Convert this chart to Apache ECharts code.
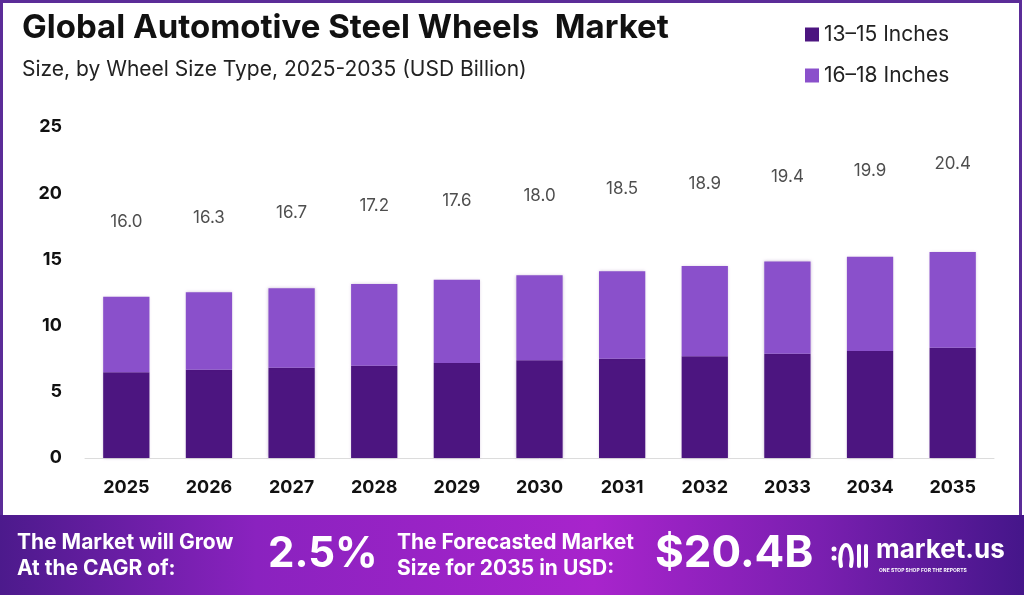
<!DOCTYPE html>
<html>
<head>
<meta charset="utf-8">
<title>Global Automotive Steel Wheels Market</title>
<script src="https://cdn.jsdelivr.net/npm/echarts@6/dist/echarts.min.js"></script>
<style>
	html, body { margin: 0; padding: 0; background: #fff; }
	#chart { width: 1024px; height: 595px; }
</style>
</head>
<body>
<div id="chart"></div>
<script>
// data
var years = ['2025', '2026', '2027', '2028', '2029', '2030', '2031', '2032', '2033', '2034', '2035'];
var small = [6.47, 6.67, 6.82, 6.97, 7.17, 7.38, 7.50, 7.68, 7.88, 8.08, 8.33];   // 13-15 Inches
var large = [5.71, 5.84, 6.00, 6.17, 6.30, 6.42, 6.60, 6.82, 6.97, 7.12, 7.23];   // 16-18 Inches
var totals = [16.0, 16.3, 16.7, 17.2, 17.6, 18.0, 18.5, 18.9, 19.4, 19.9, 20.4];  // labels printed above bars
var yTicks = [0, 5, 10, 15, 20, 25];

var darkColor = '#4c1580';
var lightColor = '#8a50cb';
var font = 'Inter, "Noto Sans", sans-serif';

var myChart = echarts.init(document.getElementById('chart'));

var option = {
	backgroundColor: '#fff',
	animation: false,
	grid: {
		left: 85,
		right: 30,
		top: 127,
		bottom: 137
	},
	legend: {
		data: ['13–15 Inches', '16–18 Inches'],
		orient: 'vertical',
		left: 800,
		top: 19,
		icon: 'rect',
		itemWidth: 14,
		itemHeight: 14,
		itemGap: 20,
		textStyle: {
			fontFamily: font,
			fontSize: 21,
			color: '#222'
		}
	},
	xAxis: {
		type: 'category',
		data: years,
		axisTick: { show: false },
		axisLine: { lineStyle: { color: '#dcdcdc', width: 1 } },
		axisLabel: {
			margin: 21,
			fontFamily: font,
			fontSize: 18,
			fontWeight: 'bold',
			color: '#111'
		}
	},
	yAxis: {
		type: 'value',
		min: yTicks[0],
		max: yTicks[yTicks.length - 1],
		interval: 5,
		splitLine: { show: false },
		axisLine: { show: false },
		axisTick: { show: false },
		axisLabel: {
			margin: 23,
			fontFamily: font,
			fontSize: 18,
			fontWeight: 'bold',
			color: '#111'
		}
	},
	series: [{
		name: '13–15 Inches',
		type: 'bar',
		stack: 'size',
		barWidth: '56%',
		data: small,
		itemStyle: {
			color: darkColor,
			shadowBlur: 3,
			shadowColor: 'rgba(60,0,100,0.25)'
		}
	}, {
		name: '16–18 Inches',
		type: 'bar',
		stack: 'size',
		barWidth: '56%',
		data: large,
		itemStyle: {
			color: lightColor,
			shadowBlur: 3,
			shadowColor: 'rgba(60,0,100,0.25)'
		}
	}, {
		// carries the total labels, positioned by the value axis
		name: 'total',
		type: 'scatter',
		data: totals,
		symbolSize: 1,
		itemStyle: { color: 'rgba(0,0,0,0)' },
		silent: true,
		label: {
			show: true,
			position: 'top',
			distance: 15,
			fontFamily: font,
			fontSize: 17,
			color: '#222',
			formatter: function(p) {
				return p.value.toFixed(1);
			}
		}
	}],
	graphic: [
		// frame
		{
			type: 'rect',
			z: 0,
			shape: { x: 1.5, y: 1.5, width: 1019, height: 600 },
			style: { fill: 'none', stroke: '#5b2c98', lineWidth: 3 }
		},
		// title
		{
			type: 'text',
			left: 22,
			top: 12,
			style: {
				text: 'Global Automotive Steel Wheels  Market',
				font: 'bold 33px ' + font,
				fill: '#111'
			}
		}, {
			type: 'text',
			left: 22,
			top: 59,
			style: {
				text: 'Size, by Wheel Size Type, 2025-2035 (USD Billion)',
				font: '21px ' + font,
				fill: '#222'
			}
		},
		// bottom banner
		{
			type: 'rect',
			z: 1,
			shape: { x: 0, y: 515, width: 1024, height: 80 },
			style: {
				fill: new echarts.graphic.LinearGradient(0, 0, 1, 0, [
					{ offset: 0, color: '#4c1a8c' },
					{ offset: 0.25, color: '#8a22bf' },
					{ offset: 0.58, color: '#a824cc' },
					{ offset: 0.8, color: '#7a1fb0' },
					{ offset: 1, color: '#45168a' }
				])
			}
		}, {
			type: 'text',
			z: 2,
			left: 17,
			top: 530,
			style: {
				text: 'The Market will Grow\nAt the CAGR of:',
				font: 'bold 21px ' + font,
				lineHeight: 26,
				fill: '#fff'
			}
		}, {
			type: 'text',
			z: 2,
			left: 268,
			top: 533,
			style: {
				text: '2.5%',
				font: 'bold 42px ' + font,
				fill: '#fff',
				shadowBlur: 6,
				shadowColor: 'rgba(0,0,0,0.35)',
				shadowOffsetX: 2,
				shadowOffsetY: 2
			}
		}, {
			type: 'text',
			z: 2,
			left: 397,
			top: 530,
			style: {
				text: 'The Forecasted Market\nSize for 2035 in USD:',
				font: 'bold 21px ' + font,
				lineHeight: 26,
				fill: '#fff'
			}
		}, {
			type: 'text',
			z: 2,
			left: 655,
			top: 532,
			style: {
				text: '$20.4B',
				font: 'bold 44px ' + font,
				fill: '#fff',
				shadowBlur: 6,
				shadowColor: 'rgba(0,0,0,0.35)',
				shadowOffsetX: 2,
				shadowOffsetY: 2
			}
		},
		// market.us logo, roughly
		{ type: 'circle', z: 3, shape: { cx: 834, cy: 549, r: 2.5 }, style: { fill: '#fff' } },
		{ type: 'circle', z: 3, shape: { cx: 834, cy: 558, r: 2.5 }, style: { fill: '#fff' } },
		{
			type: 'polyline',
			z: 3,
			shape: { points: [[841, 566], [841, 552], [846, 545], [851, 552], [851, 566]], smooth: 0.5 },
			style: { stroke: '#fff', lineWidth: 4, fill: 'none', lineCap: 'round' }
		},
		{ type: 'line', z: 3, shape: { x1: 859, y1: 546, x2: 859, y2: 566 }, style: { stroke: '#fff', lineWidth: 4, lineCap: 'round' } },
		{ type: 'line', z: 3, shape: { x1: 866, y1: 546, x2: 866, y2: 566 }, style: { stroke: '#fff', lineWidth: 4, lineCap: 'round' } },
		{
			type: 'text',
			z: 3,
			left: 876,
			top: 537,
			style: {
				text: 'market.us',
				font: 'bold 26px ' + font,
				fill: '#fff'
			}
		}, {
			type: 'text',
			z: 3,
			left: 879,
			top: 568,
			style: {
				text: 'ONE STOP SHOP FOR THE REPORTS',
				font: 'bold 5px ' + font,
				fill: '#fff'
			}
		}
	]
};
myChart.setOption(option);
</script>
</body>
</html>
